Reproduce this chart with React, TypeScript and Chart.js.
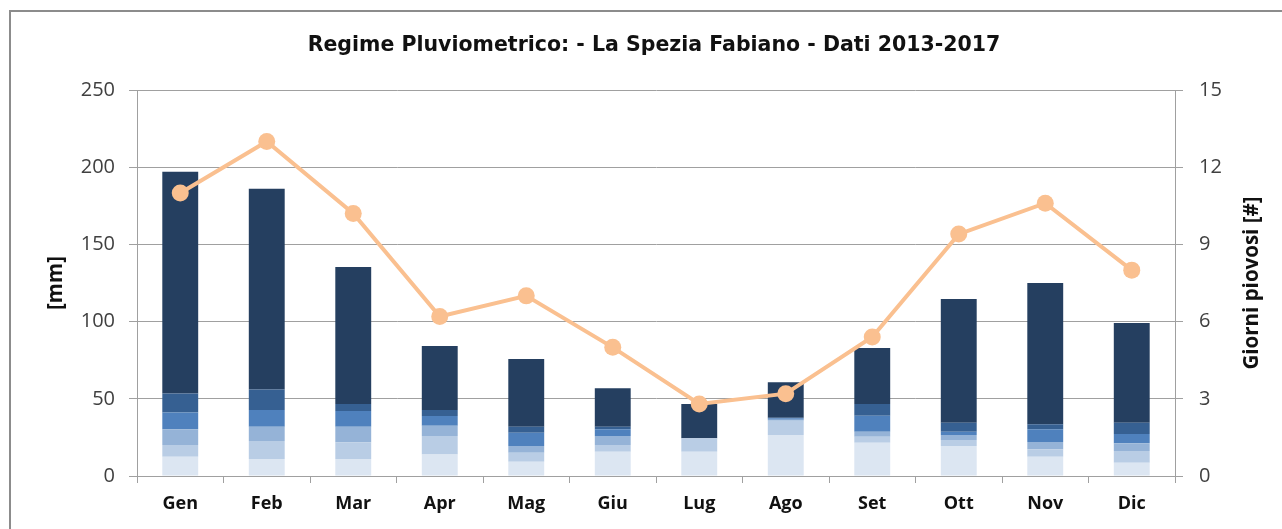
import React, { useEffect, useRef } from "react";
import { Chart, registerables } from "chart.js";

Chart.register(...registerables);

const categories = ["Gen", "Feb", "Mar", "Apr", "Mag", "Giu", "Lug", "Ago", "Set", "Ott", "Nov", "Dic"];
const seg1 = [12.5, 11, 11, 14, 9.3, 15.7, 15.7, 26.6, 21.6, 19.4, 12.5, 8.6];
const seg2 = [7.6, 11.7, 10.8, 11.9, 5.8, 4.4, 8.7, 9.2, 3.9, 3.9, 4.8, 7.6];
const seg3 = [10.1, 9.2, 10.1, 6.7, 4.3, 5.8, 0, 0.6, 3.2, 3.3, 4.7, 5.0];
const seg4 = [11.0, 10.8, 10.2, 6.3, 8.6, 4.3, 0, 1.0, 10.4, 2.1, 8.2, 6.0];
const seg5 = [12.3, 13.4, 4.5, 3.8, 3.9, 1.7, 0, 0.4, 7.5, 5.8, 3.3, 7.3];
const seg6 = [143.5, 130, 88.8, 41.5, 43.9, 24.9, 22.2, 22.9, 36.3, 80.1, 91.5, 64.6];
const rainyDays = [11, 13, 10.2, 6.2, 7.0, 5.0, 2.8, 3.2, 5.4, 9.4, 10.6, 8.0];

const titleText = "Regime Pluviometrico: - La Spezia Fabiano - Dati 2013-2017";
const leftTitle = "[mm]";
const rightTitle = "Giorni piovosi [#]";

const segColors = ["#dce6f2", "#b9cde5", "#95b3d7", "#4f81bd", "#366092", "#253f60"];
const segData = [seg1, seg2, seg3, seg4, seg5, seg6];

const GRID = "#a0a0a0";
const TICK_COLOR = "#404040";

const rightTitlePlugin = {
  id: "rightTitle",
  afterDraw(chart: any) {
    const { ctx, chartArea } = chart;
    ctx.save();
    ctx.translate(1252, (chartArea.top + chartArea.bottom) / 2);
    ctx.rotate(-Math.PI / 2);
    ctx.font = "bold 20.5px 'Open Sans', sans-serif";
    ctx.fillStyle = "#111111";
    ctx.textAlign = "center";
    ctx.textBaseline = "middle";
    ctx.fillText(rightTitle, 0, 0);
    ctx.restore();
  },
};

export default function App() {
  const ref = useRef<HTMLCanvasElement | null>(null);

  useEffect(() => {
    if (!ref.current) return;
    Chart.defaults.font.family = "'Open Sans', sans-serif";
    const barSets = segData.map((d, i) => ({
      type: "bar" as const,
      label: "S" + (i + 1),
      data: d,
      backgroundColor: segColors[i],
      borderWidth: 0,
      barPercentage: 0.415,
      categoryPercentage: 1,
      yAxisID: "y",
      order: 1,
    }));
    const chart = new Chart(ref.current, {
      type: "bar",
      data: {
        labels: categories,
        datasets: [
          ...barSets,
          {
            type: "line" as const,
            label: "Giorni piovosi",
            data: rainyDays,
            yAxisID: "y1",
            borderColor: "#fac090",
            backgroundColor: "#fac090",
            borderWidth: 4,
            pointRadius: 8.5,
            pointBorderWidth: 0,
            pointBackgroundColor: "#fac090",
            tension: 0,
            order: 0,
          } as any,
        ],
      },
      plugins: [rightTitlePlugin],
      options: {
        responsive: false,
        animation: false,
        devicePixelRatio: 1,
        layout: { padding: { left: 26, right: 0, top: 0, bottom: 0 } },
        plugins: {
          legend: { display: false },
          tooltip: { enabled: false },
          title: {
            display: true,
            text: titleText,
            color: "#111111",
            font: { family: "'DejaVu Sans', sans-serif", size: 20.5, weight: "bold" },
            padding: { top: 33, bottom: 32.4 },
          },
        },
        scales: {
          x: {
            stacked: true,
            offset: true,
            grid: {
              display: true,
              offset: true,
              drawOnChartArea: false,
              drawTicks: true,
              tickLength: 7,
              color: GRID,
            },
            border: { display: true, color: GRID },
            ticks: {
              color: "#111111",
              font: { size: 18, weight: "bold" },
              padding: 10,
              maxRotation: 0,
            },
            afterFit: (s: any) => {
              s.height = 53;
            },
          },
          y: {
            stacked: true,
            position: "left",
            min: 0,
            max: 250,
            ticks: {
              stepSize: 50,
              color: TICK_COLOR,
              font: { size: 20 },
              padding: 14,
            },
            grid: { color: GRID, tickLength: 8, drawTicks: true },
            border: { display: true, color: GRID },
            title: {
              display: true,
              text: leftTitle,
              color: "#111111",
              font: { size: 20.5, weight: "bold" },
              padding: { top: 18, bottom: 0 },
            },
            afterFit: (s: any) => {
              s.width = 111;
            },
          },
          y1: {
            stacked: false,
            position: "right",
            min: 0,
            max: 15,
            ticks: {
              stepSize: 3,
              color: TICK_COLOR,
              font: { size: 20 },
              padding: 16,
            },
            grid: { drawOnChartArea: false, drawTicks: true, tickLength: 8, color: GRID },
            border: { display: true, color: GRID },
            title: { display: false },
            afterFit: (s: any) => {
              s.width = 107;
            },
          },
        },
      },
    });
    return () => chart.destroy();
  }, []);

  return (
    <div
      style={{
        position: "fixed",
        left: 0,
        top: 0,
        width: 1282,
        height: 529,
        overflow: "hidden",
        background: "#ffffff",
      }}
    >
      <div
        style={{
          position: "absolute",
          left: 9,
          top: 10,
          width: 2000,
          height: 2000,
          border: "2px solid #8c8c8c",
        }}
      />
      <canvas
        ref={ref}
        width={1282}
        height={529}
        style={{ position: "absolute", left: 0, top: 0, width: 1282, height: 529 }}
      />
    </div>
  );
}
